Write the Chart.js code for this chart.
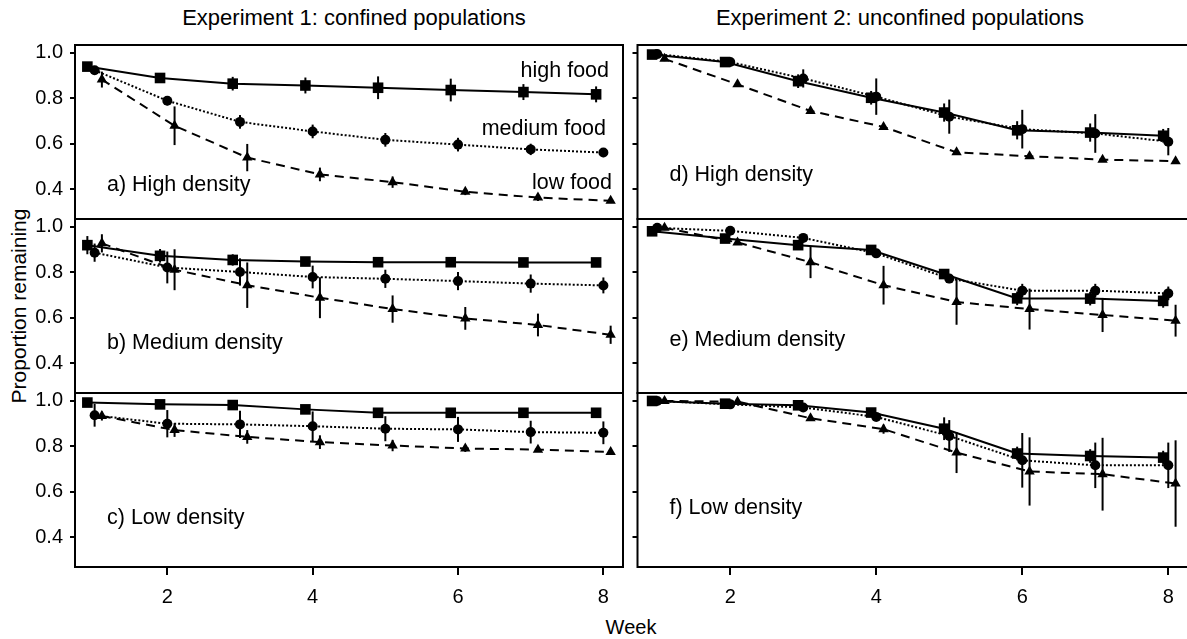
<!DOCTYPE html>
<html><head><meta charset="utf-8">
<script src="https://cdn.jsdelivr.net/npm/chart.js@4/dist/chart.umd.min.js"></script>
<style>
html,body{margin:0;padding:0;background:#fff;overflow:hidden;}
#wrap{position:relative;width:1187px;height:639px;overflow:hidden;background:#fff;font-family:'Liberation Sans',Arial,Helvetica,sans-serif;color:#000;}
#wrap canvas{position:absolute;}
.t{position:absolute;white-space:nowrap;line-height:1;}
</style></head><body>
<div id="wrap">
  <div class="t" id="h1" style="font-size:22px;left:354px;top:18px;transform:translate(-50%,-50%);">Experiment 1: confined populations</div>
  <div class="t" id="h2" style="font-size:22px;left:900px;top:18px;transform:translate(-50%,-50%);">Experiment 2: unconfined populations</div>
  <div class="t" id="yt" style="font-size:21px;left:18px;top:306px;transform:translate(-50%,-50%) rotate(-90deg);">Proportion remaining</div>
  <div class="t" id="xt" style="font-size:20px;left:631px;top:627px;transform:translate(-50%,-50%);">Week</div>
</div>
<script>
// ---------- data ----------
const weeks = [1, 2, 3, 4, 5, 6, 7, 8];
const xTicks = [2, 4, 6, 8];
const yTicks = [0.4, 0.6, 0.8, 1.0];
const seriesNames = ['high food', 'medium food', 'low food'];
const panelTitles = ['a) High density', 'b) Medium density', 'c) Low density',
                     'd) High density', 'e) Medium density', 'f) Low density'];
const columnTitles = ['Experiment 1: confined populations', 'Experiment 2: unconfined populations'];

// Experiment 1 (confined)
const aHigh = [0.94, 0.89, 0.865, 0.857, 0.847, 0.837, 0.828, 0.818];
const aHighErr = [0.01, 0.02, 0.03, 0.035, 0.05, 0.05, 0.035, 0.035];
const aMed = [0.924, 0.79, 0.697, 0.655, 0.618, 0.597, 0.576, 0.562];
const aMedErr = [0.01, 0.02, 0.03, 0.03, 0.03, 0.03, 0.025, 0.02];
const aLow = [0.883, 0.68, 0.54, 0.466, 0.432, 0.39, 0.364, 0.35];
const aLowErr = [0.035, 0.085, 0.06, 0.03, 0.025, 0.015, 0.015, 0.01];

const bHigh = [0.92, 0.873, 0.855, 0.848, 0.845, 0.845, 0.844, 0.844];
const bHighErr = [0.04, 0.03, 0.025, 0.02, 0.02, 0.015, 0.015, 0.015];
const bMed = [0.887, 0.822, 0.802, 0.78, 0.772, 0.762, 0.751, 0.743];
const bMedErr = [0.04, 0.07, 0.06, 0.05, 0.04, 0.04, 0.04, 0.035];
const bLow = [0.928, 0.812, 0.744, 0.689, 0.639, 0.598, 0.569, 0.526];
const bLowErr = [0.04, 0.09, 0.1, 0.09, 0.06, 0.05, 0.05, 0.04];

const cHigh = [0.993, 0.985, 0.982, 0.963, 0.948, 0.948, 0.948, 0.948];
const cHighErr = [0.005, 0.005, 0.005, 0.005, 0.005, 0.005, 0.005, 0.005];
const cMed = [0.937, 0.9, 0.897, 0.889, 0.878, 0.875, 0.863, 0.86];
const cMedErr = [0.05, 0.06, 0.06, 0.065, 0.055, 0.055, 0.05, 0.05];
const cLow = [0.934, 0.872, 0.842, 0.819, 0.804, 0.791, 0.786, 0.776];
const cLowErr = [0.02, 0.03, 0.03, 0.03, 0.025, 0.015, 0.01, 0.01];

// Experiment 2 (unconfined)
const dHigh = [0.993, 0.96, 0.876, 0.803, 0.738, 0.66, 0.65, 0.636];
const dHighErr = [0.005, 0.01, 0.03, 0.03, 0.04, 0.04, 0.04, 0.03];
const dMed = [0.995, 0.96, 0.888, 0.808, 0.72, 0.665, 0.646, 0.61];
const dMedErr = [0.005, 0.01, 0.04, 0.08, 0.075, 0.085, 0.085, 0.06];
const dLow = [0.974, 0.862, 0.745, 0.675, 0.563, 0.546, 0.531, 0.524];
const dLowErr = [0.01, 0.01, 0.01, 0.01, 0.01, 0.01, 0.01, 0.01];

const eHigh = [0.981, 0.949, 0.92, 0.899, 0.793, 0.686, 0.685, 0.675];
const eHighErr = [0.01, 0.01, 0.01, 0.01, 0.02, 0.03, 0.03, 0.03];
const eMed = [0.996, 0.983, 0.952, 0.884, 0.773, 0.72, 0.72, 0.708];
const eMedErr = [0.005, 0.01, 0.01, 0.01, 0.02, 0.03, 0.03, 0.03];
const eLow = [0.996, 0.932, 0.845, 0.744, 0.67, 0.639, 0.613, 0.588];
const eLowErr = [0.01, 0.01, 0.07, 0.085, 0.1, 0.09, 0.075, 0.07];

const fHigh = [1.0, 0.988, 0.981, 0.949, 0.878, 0.769, 0.758, 0.751];
const fHighErr = [0.005, 0.005, 0.005, 0.01, 0.05, 0.03, 0.03, 0.03];
const fMed = [1.0, 0.985, 0.971, 0.93, 0.846, 0.739, 0.717, 0.717];
const fMedErr = [0.005, 0.005, 0.01, 0.01, 0.07, 0.12, 0.1, 0.1];
const fLow = [1.0, 0.997, 0.924, 0.876, 0.773, 0.69, 0.678, 0.637];
const fLowErr = [0.005, 0.005, 0.01, 0.02, 0.09, 0.15, 0.16, 0.19];

// ---------- layout / style ----------
const FONT = "'Liberation Sans', Arial, Helvetica, sans-serif";
Chart.defaults.font.family = FONT;
Chart.defaults.color = '#000';
const X_MIN = 0.73, X_MAX = 8.27, Y_MIN = 0.27, Y_MAX = 1.035;
const colGeom = [
  {left: 0, width: 640, axisW: 75, padRight: 17, showLabels: true, offsets: [-0.1, 0, 0.1]},
  {left: 630, width: 570, axisW: 7, padRight: 12, showLabels: false, offsets: [-0.07, 0, 0.1]}
];
const rowGeom = [
  {areaTop: 45, areaH: 174, bottomAxis: false},
  {areaTop: 219, areaH: 174, bottomAxis: false},
  {areaTop: 393, areaH: 174, bottomAxis: true}
];
const PAD = 24;
const labelOffsetY = [140, 124, 125, 130, 121, 115];
const styles = [
  {pointStyle: 'rect', radius: 7.5, dash: []},
  {pointStyle: 'circle', radius: 5, dash: [2, 2]},
  {pointStyle: 'triangle', radius: 6, dash: [9, 6]}
];
const notesA = [
  {text: seriesNames[0], dx: 14, dy: 26},
  {text: seriesNames[1], dx: 17, dy: 84},
  {text: seriesNames[2], dx: 11, dy: 138}
];

const panelSeries = [
  [[aHigh, aHighErr], [aMed, aMedErr], [aLow, aLowErr]],
  [[bHigh, bHighErr], [bMed, bMedErr], [bLow, bLowErr]],
  [[cHigh, cHighErr], [cMed, cMedErr], [cLow, cLowErr]],
  [[dHigh, dHighErr], [dMed, dMedErr], [dLow, dLowErr]],
  [[eHigh, eHighErr], [eMed, eMedErr], [eLow, eLowErr]],
  [[fHigh, fHighErr], [fMed, fMedErr], [fLow, fLowErr]]
];

const decoPlugin = {
  id: 'deco',
  beforeDatasetsDraw(chart) {
    const ctx = chart.ctx, xs = chart.scales.x, ys = chart.scales.y;
    ctx.save();
    ctx.strokeStyle = '#000';
    ctx.lineWidth = 2;
    chart.data.datasets.forEach(ds => {
      ds.err.forEach((e, i) => {
        const p = ds.data[i];
        const px = xs.getPixelForValue(p.x);
        ctx.beginPath();
        ctx.moveTo(px, ys.getPixelForValue(p.y - e));
        ctx.lineTo(px, ys.getPixelForValue(p.y + e));
        ctx.stroke();
      });
    });
    ctx.restore();
  },
  afterDraw(chart, args, opts) {
    const ctx = chart.ctx, a = chart.chartArea;
    ctx.save();
    ctx.strokeStyle = '#000';
    ctx.lineWidth = 2;
    ctx.strokeRect(a.left, a.top, a.right - a.left, a.bottom - a.top);
    ctx.fillStyle = '#000';
    ctx.font = '21.5px ' + FONT;
    ctx.textBaseline = 'middle';
    ctx.textAlign = 'left';
    ctx.fillText(opts.label, a.left + 32, a.top + opts.labelDy);
    ctx.textAlign = 'right';
    (opts.notes || []).forEach(n => ctx.fillText(n.text, a.right - n.dx, a.top + n.dy));
    ctx.restore();
  }
};

const wrap = document.getElementById('wrap');
panelSeries.forEach((series, idx) => {
  const col = Math.floor(idx / 3), row = idx % 3;
  const cg = colGeom[col], rg = rowGeom[row];
  const canvas = document.createElement('canvas');
  const xAxisH = rg.bottomAxis ? 50 : 0;
  const padTop = PAD, padBottom = rg.bottomAxis ? 0 : PAD;
  const h = padTop + rg.areaH + padBottom + xAxisH;
  canvas.width = cg.width; canvas.height = h;
  canvas.style.left = cg.left + 'px';
  canvas.style.top = (rg.areaTop - padTop) + 'px';
  canvas.style.width = cg.width + 'px';
  canvas.style.height = h + 'px';
  wrap.appendChild(canvas);

  const datasets = series.map((s, k) => ({
    label: seriesNames[k],
    data: weeks.map((w, i) => ({x: w + cg.offsets[k], y: s[0][i]})),
    err: s[1],
    showLine: true,
    borderColor: '#000',
    backgroundColor: '#000',
    borderWidth: 2,
    borderDash: styles[k].dash,
    pointStyle: styles[k].pointStyle,
    pointRadius: styles[k].radius,
    pointBackgroundColor: '#000',
    pointBorderColor: '#000',
    pointBorderWidth: 0,
    tension: 0,
    clip: false
  }));

  new Chart(canvas, {
    type: 'scatter',
    data: {datasets},
    options: {
      responsive: false,
      animation: false,
      devicePixelRatio: 1,
      layout: {padding: {left: 0, right: cg.padRight, top: padTop, bottom: padBottom}},
      plugins: {
        legend: {display: false},
        tooltip: {enabled: false},
        deco: {label: panelTitles[idx], labelDy: labelOffsetY[idx], notes: idx === 0 ? notesA : []}
      },
      scales: {
        x: {
          type: 'linear', min: X_MIN, max: X_MAX,
          display: rg.bottomAxis,
          afterBuildTicks: sc => { sc.ticks = xTicks.map(v => ({value: v})); },
          afterFit: sc => { sc.height = xAxisH; },
          grid: {drawOnChartArea: false, drawTicks: true, tickLength: 8, color: '#000', lineWidth: 2},
          border: {display: false},
          ticks: {font: {size: 20}, color: '#000', padding: 10, callback: v => String(v), maxRotation: 0}
        },
        y: {
          type: 'linear', min: Y_MIN, max: Y_MAX,
          afterBuildTicks: sc => { sc.ticks = yTicks.map(v => ({value: v})); },
          afterFit: sc => { sc.width = cg.axisW; },
          grid: {drawOnChartArea: false, drawTicks: true, tickLength: 5, color: '#000', lineWidth: 2},
          border: {display: false},
          ticks: {display: cg.showLabels, font: {size: 20}, color: '#000', padding: 7, callback: v => v.toFixed(1)}
        }
      }
    },
    plugins: [decoPlugin]
  });
});
</script>
</body></html>
